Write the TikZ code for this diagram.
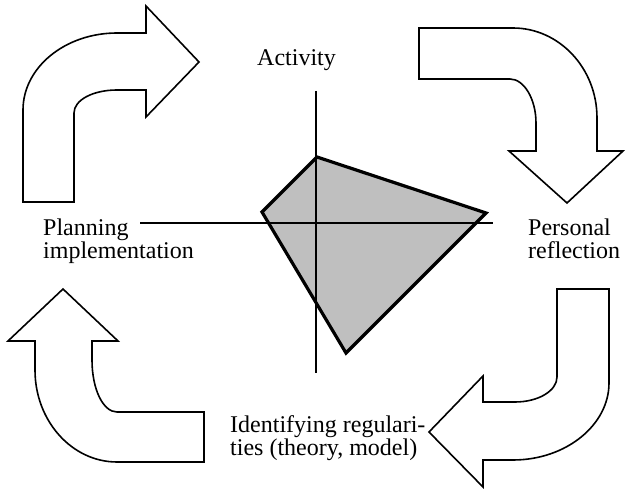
\documentclass[tikz,border=0pt]{standalone}
\usepackage{fontspec}
\setmainfont{Liberation Serif}
\begin{document}
\begin{tikzpicture}[x=1pt,y=-1pt,
  bigarrow/.style={draw=black,line width=1.6pt,fill=white,line join=miter},
  axis/.style={draw=black,line width=1.6pt},
  profile/.style={fill=black!25},
  profileedge/.style={draw=black,line width=3.2pt,line join=miter},
  label/.style={font=\fontsize{24}{23}\selectfont,inner sep=0pt,anchor=base west,align=left}]
\useasboundingbox (0,0) rectangle (633,489);

% curved arrow, upper left: up then right
\draw[bigarrow] (23,202) -- (23,110)
  .. controls (23,67.5) and (65,33) .. (117,33)
  -- (146,33) -- (146,6) -- (199,62) -- (146,117) -- (146,90) -- (117,90)
  .. controls (93,90) and (74,100) .. (74,113)
  -- (74,202) -- cycle;

% curved arrow, upper right: right then down
\draw[bigarrow] (419,28) -- (513,28)
  .. controls (559,28) and (597,68) .. (597,118)
  -- (597,151) -- (623,151) -- (567,203) -- (509,151) -- (536,151) -- (536,123)
  .. controls (536,99) and (524,79) .. (510,79)
  -- (419,79) -- cycle;

% curved arrow, lower right: down then left
\draw[bigarrow] (557,289) -- (609,289) -- (609,383)
  .. controls (609,425) and (566,460) .. (513,460)
  -- (483,460) -- (483,487) -- (429,432) -- (483,376) -- (483,402) -- (515,402)
  .. controls (538,402) and (557,391) .. (557,377)
  -- cycle;

% curved arrow, lower left: left then up
\draw[bigarrow] (204,412) -- (204,462) -- (117,462)
  .. controls (72,462) and (35,421) .. (35,370)
  -- (35,341) -- (8,341) -- (63,289) -- (118,341) -- (92,341) -- (92,360)
  .. controls (92,389) and (103,412) .. (117,412)
  -- cycle;

% profile polygon and axes
\coordinate (pt) at (317,157);
\coordinate (pr) at (486,213);
\coordinate (pb) at (346,353);
\coordinate (pl) at (262,212);
\fill[profile] (pt) -- (pr) -- (pb) -- (pl) -- cycle;
\coordinate (vtop) at (316,91);
\coordinate (vbot) at (316,373);
\coordinate (hleft) at (140,223);
\coordinate (hright) at (493,223);
\draw[axis] (vtop) -- (vbot);
\draw[axis] (hleft) -- (hright);
\draw[profileedge] (pt) -- (pr) -- (pb) -- (pl) -- cycle;

% labels (base anchor sits on the last line)
\node[label] (activity) at (257,66) {Activity};
\node[label] (planning) at (43,259) {Planning\\implementation};
\node[label] (personal) at (528,259) {Personal\\reflection};
\node[label] (identify) at (230,456) {Identifying regulari-\\ties (theory, model)};
\end{tikzpicture}
\end{document}
